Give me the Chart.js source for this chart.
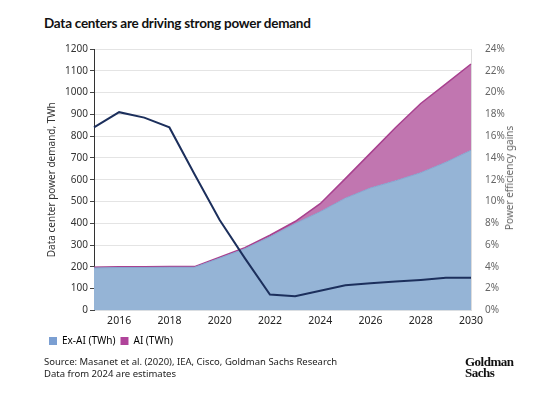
<!DOCTYPE html>
<html>
<head>
<meta charset="utf-8">
<script src="https://cdn.jsdelivr.net/npm/chart.js@4"></script>
<style>
  body { margin: 0; background: #fff; font-family: "Noto Sans", sans-serif; }
  #wrap { position: relative; width: 560px; height: 395px; }
  #title { position: absolute; left: 44px; top: 15px; font: bold 13.5px "Lato", sans-serif; letter-spacing: -0.25px; color: #111; }
  #box { position: absolute; left: 44px; top: 29px; width: 500px; height: 327px; }
  #rtitle { position: absolute; left: 509px; top: 178px; transform: translate(-50%, -50%) rotate(-90deg); font-size: 10px; color: #666; white-space: nowrap; }
  #src { position: absolute; left: 44px; top: 356px; font-size: 9.5px; line-height: 12px; color: #222; }
  #logo { position: absolute; left: 465px; top: 356px; font: bold 13px "Liberation Serif", serif; line-height: 11px; color: #111; letter-spacing: -0.5px; }
</style>
</head>
<body>
<div id="wrap">
  <div id="title">Data centers are driving strong power demand</div>
  <div id="box"><canvas id="c"></canvas></div>
  <div id="rtitle">Power efficiency gains</div>
  <div id="src">Source: Masanet et al. (2020), IEA, Cisco, Goldman Sachs Research<br>Data from 2024 are estimates</div>
  <div id="logo">Goldman<br>Sachs</div>
</div>
<script>
const years = ['2015','2016','2017','2018','2019','2020','2021','2022','2023','2024','2025','2026','2027','2028','2029','2030'];
const exAi = [195, 197, 197, 198, 198, 240, 283, 338, 398, 453, 515, 562, 595, 632, 680, 735];
const ai = [3, 3, 3, 3, 3, 4, 5, 7, 10, 37, 90, 160, 245, 318, 360, 396];
const efficiency = [16.8, 18.2, 17.7, 16.8, 12.5, 8.3, 4.8, 1.45, 1.3, 1.8, 2.3, 2.5, 2.65, 2.8, 3.0, 3.0];

const font = { family: 'Noto Sans', size: 10 };

new Chart(document.getElementById('c'), {
    type: 'line',
    data: {
        labels: years,
        datasets: [
            { label: 'Power efficiency gains', data: efficiency, yAxisID: 'y1', borderColor: '#1c2f5c', borderWidth: 2, pointRadius: 0, fill: false, order: 0 },
            { label: 'Ex-AI (TWh)', data: exAi, yAxisID: 'y', stack: 'dc', borderColor: '#86a5cf', backgroundColor: 'rgba(149,180,214,1)', borderWidth: 1, pointRadius: 0, fill: 'origin', order: 1 },
            { label: 'AI (TWh)', data: ai, yAxisID: 'y', stack: 'dc', borderColor: '#a8418f', backgroundColor: 'rgba(193,118,176,1)', borderWidth: 1.5, pointRadius: 0, fill: '-1', order: 2 }
        ]
    },
    options: {
        responsive: true,
        maintainAspectRatio: false,
        animation: false,
        layout: { padding: { top: 0, bottom: 0 } },
        plugins: {
            tooltip: { enabled: false },
            legend: {
                position: 'bottom', align: 'start',
                labels: {
                    boxWidth: 8, boxHeight: 8, padding: 5, color: '#333', font,
                    generateLabels: chart => chart.data.datasets.slice(1).map((d, i) => ({
                        text: d.label, fillStyle: i === 0 ? '#7b9fd2' : '#b0449a', strokeStyle: 'transparent', lineWidth: 0, datasetIndex: i + 1
                    }))
                }
            }
        },
        scales: {
            x: {
                type: 'category', offset: false,
                grid: { display: false, drawTicks: false }, border: { display: false },
                ticks: { color: '#222', font: { family: 'Noto Sans', size: 10.5 }, maxRotation: 0, autoSkip: false, padding: 4,
                    callback: (v, i) => (i % 2 === 1 ? years[i] : '') }
            },
            y: {
                stacked: true, min: 0, max: 1200, position: 'left',
                ticks: { stepSize: 100, color: '#333', font, padding: 2, callback: v => v },
                grid: { color: '#e4e4e4', tickColor: '#444', tickLength: 4 },
                border: { display: true, color: '#333' },
                title: { display: true, text: 'Data center power demand, TWh', color: '#333', font, padding: 2 },
                afterFit: s => { s.width = 50; }
            },
            y1: {
                min: 0, max: 24, position: 'right',
                ticks: { stepSize: 2, color: '#666', font, padding: 14, callback: v => v + '%' },
                grid: { drawOnChartArea: false, drawTicks: false },
                border: { display: true, color: '#dddddd' },
                afterFit: s => { s.width = 73; }
            }
        }
    }
});
</script>
</body>
</html>
